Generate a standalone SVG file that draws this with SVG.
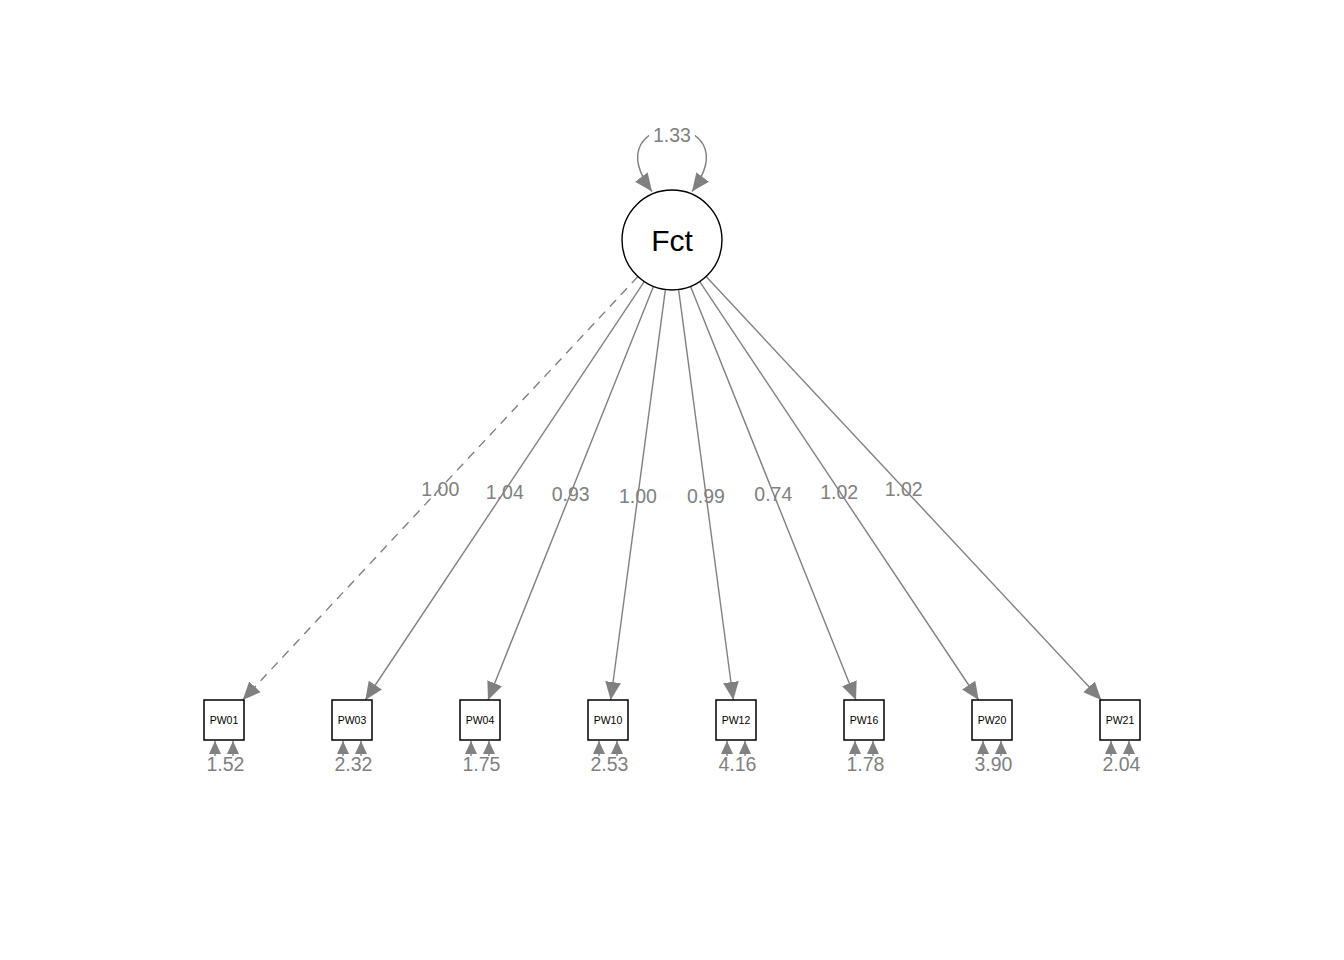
<svg xmlns="http://www.w3.org/2000/svg" width="1344" height="960" viewBox="0 0 1344 960">
<defs>
<marker id="ah" markerUnits="userSpaceOnUse" markerWidth="18" markerHeight="16" viewBox="0 0 16 14" refX="16" refY="7" orient="auto-start-reverse">
<path d="M0,0 L16,7 L0,14 Z" fill="#808080"/>
</marker>
<marker id="ahs" markerUnits="userSpaceOnUse" markerWidth="13" markerHeight="12" viewBox="0 0 13 12" refX="13" refY="6" orient="auto">
<path d="M0,0 L13,6 L0,12 Z" fill="#808080"/>
</marker>
</defs>
<style>
.edge{fill:none;stroke:#808080;stroke-width:1.4}
.dash{stroke-dasharray:9 7}
.lbl{font-family:"Liberation Sans",Arial,sans-serif;font-size:19.5px;fill:#808080;text-anchor:middle}
.box{fill:#fff;stroke:#000;stroke-width:1.5}
.boxt{font-family:"Liberation Sans",Arial,sans-serif;font-size:10.5px;fill:#000;text-anchor:middle}
</style>
<rect width="1344" height="960" fill="#fff"/>
<g id="connectors">
<path class="edge dash" d="M637.89,276.55 L242.67,700" marker-end="url(#ah)"/>
<path class="edge" d="M644.27,281.60 L365.33,700" marker-end="url(#ah)"/>
<path class="edge" d="M653.43,286.42 L488,700" marker-end="url(#ah)"/>
<path class="edge" d="M665.39,289.56 L610.67,700" marker-end="url(#ah)"/>
<path class="edge" d="M678.61,289.56 L733.33,700" marker-end="url(#ah)"/>
<path class="edge" d="M690.57,286.42 L856,700" marker-end="url(#ah)"/>
<path class="edge" d="M699.73,281.60 L978.67,700" marker-end="url(#ah)"/>
<path class="edge" d="M706.11,276.55 L1101.33,700" marker-end="url(#ah)"/>
<path class="edge" d="M652,191.5 C590,108 754,108 692,191.5" marker-start="url(#ah)" marker-end="url(#ah)"/>
<rect x="649" y="124" width="46" height="21" fill="#fff"/>
<text class="lbl" x="672" y="141.5">1.33</text>
<text class="lbl" x="440.3" y="496.3">1.00</text>
<text class="lbl" x="504.8" y="498.8">1.04</text>
<text class="lbl" x="570.7" y="501.2">0.93</text>
<text class="lbl" x="638" y="502.8">1.00</text>
<text class="lbl" x="706" y="502.8">0.99</text>
<text class="lbl" x="773.3" y="501.2">0.74</text>
<text class="lbl" x="839.2" y="498.8">1.02</text>
<text class="lbl" x="903.7" y="496.3">1.02</text>
<g id="residuals">
<path class="edge" d="M215,756 L215,741" marker-end="url(#ahs)"/><path class="edge" d="M233,756 L233,741" marker-end="url(#ahs)"/>
<path class="edge" d="M343,756 L343,741" marker-end="url(#ahs)"/><path class="edge" d="M361,756 L361,741" marker-end="url(#ahs)"/>
<path class="edge" d="M471,756 L471,741" marker-end="url(#ahs)"/><path class="edge" d="M489,756 L489,741" marker-end="url(#ahs)"/>
<path class="edge" d="M599,756 L599,741" marker-end="url(#ahs)"/><path class="edge" d="M617,756 L617,741" marker-end="url(#ahs)"/>
<path class="edge" d="M727,756 L727,741" marker-end="url(#ahs)"/><path class="edge" d="M745,756 L745,741" marker-end="url(#ahs)"/>
<path class="edge" d="M855,756 L855,741" marker-end="url(#ahs)"/><path class="edge" d="M873,756 L873,741" marker-end="url(#ahs)"/>
<path class="edge" d="M983,756 L983,741" marker-end="url(#ahs)"/><path class="edge" d="M1001,756 L1001,741" marker-end="url(#ahs)"/>
<path class="edge" d="M1111,756 L1111,741" marker-end="url(#ahs)"/><path class="edge" d="M1129,756 L1129,741" marker-end="url(#ahs)"/>
<text class="lbl" x="225.5" y="771">1.52</text>
<text class="lbl" x="353.5" y="771">2.32</text>
<text class="lbl" x="481.5" y="771">1.75</text>
<text class="lbl" x="609.5" y="771">2.53</text>
<text class="lbl" x="737.5" y="771">4.16</text>
<text class="lbl" x="865.5" y="771">1.78</text>
<text class="lbl" x="993.5" y="771">3.90</text>
<text class="lbl" x="1121.5" y="771">2.04</text>
</g>
</g>
<g id="Fct">
<circle cx="672" cy="240" r="50" fill="#fff" stroke="#000" stroke-width="1.4"/>
<text x="672" y="251" font-family="Liberation Sans,Arial,sans-serif" font-size="30" text-anchor="middle" fill="#000">Fct</text>
</g>
<g id="PW01"><rect class="box" x="204" y="700" width="40" height="40"/><text class="boxt" x="224" y="724">PW01</text></g>
<g id="PW03"><rect class="box" x="332" y="700" width="40" height="40"/><text class="boxt" x="352" y="724">PW03</text></g>
<g id="PW04"><rect class="box" x="460" y="700" width="40" height="40"/><text class="boxt" x="480" y="724">PW04</text></g>
<g id="PW10"><rect class="box" x="588" y="700" width="40" height="40"/><text class="boxt" x="608" y="724">PW10</text></g>
<g id="PW12"><rect class="box" x="716" y="700" width="40" height="40"/><text class="boxt" x="736" y="724">PW12</text></g>
<g id="PW16"><rect class="box" x="844" y="700" width="40" height="40"/><text class="boxt" x="864" y="724">PW16</text></g>
<g id="PW20"><rect class="box" x="972" y="700" width="40" height="40"/><text class="boxt" x="992" y="724">PW20</text></g>
<g id="PW21"><rect class="box" x="1100" y="700" width="40" height="40"/><text class="boxt" x="1120" y="724">PW21</text></g>
</svg>
